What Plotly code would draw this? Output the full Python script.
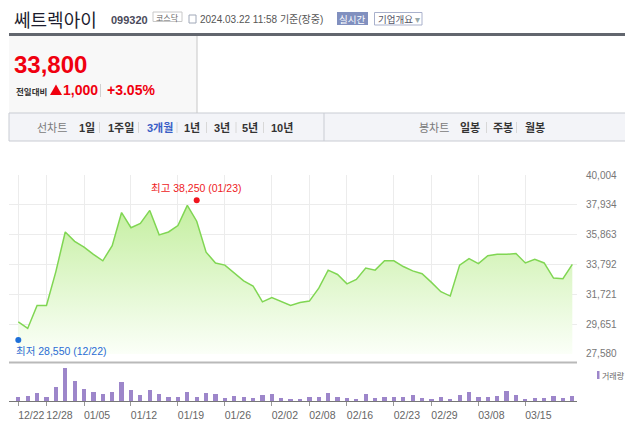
import plotly.graph_objects as go

W, H = 625, 421

# ---------------- data ----------------
dates = [
    "2023-12-22", "2023-12-26", "2023-12-27", "2023-12-28",
    "2024-01-02", "2024-01-03", "2024-01-04", "2024-01-05",
    "2024-01-08", "2024-01-09", "2024-01-10", "2024-01-11", "2024-01-12",
    "2024-01-15", "2024-01-16", "2024-01-17", "2024-01-18", "2024-01-19",
    "2024-01-22", "2024-01-23", "2024-01-24", "2024-01-25", "2024-01-26",
    "2024-01-29", "2024-01-30", "2024-01-31", "2024-02-01", "2024-02-02",
    "2024-02-05", "2024-02-06", "2024-02-07", "2024-02-08",
    "2024-02-13", "2024-02-14", "2024-02-15", "2024-02-16",
    "2024-02-19", "2024-02-20", "2024-02-21", "2024-02-22", "2024-02-23",
    "2024-02-26", "2024-02-27", "2024-02-28", "2024-02-29",
    "2024-03-04", "2024-03-05", "2024-03-06", "2024-03-07", "2024-03-08",
    "2024-03-11", "2024-03-12", "2024-03-13", "2024-03-14", "2024-03-15",
    "2024-03-18", "2024-03-19", "2024-03-20", "2024-03-21", "2024-03-22",
]

closes = [
    29800, 29350, 30950, 30950, 33300, 36050, 35400, 35000, 34500, 34050,
    35100, 37400, 36350, 36650, 37550, 35850, 36050, 36500, 37900, 36800,
    34650, 33900, 33750, 33200, 32650, 32300, 31200, 31500, 31250, 30950,
    31150, 31250, 32150, 33400, 33100, 32450, 32750, 33550, 33400, 34050,
    34050, 33650, 33350, 33150, 32550, 31900, 31600, 33750, 34200, 33850,
    34400, 34500, 34500, 34550, 33900, 34150, 33900, 32850, 32800, 33800,
]

volumes = [
    86000, 106000, 160000, 74000, 286000, 654000, 400000, 240000, 180000, 140000,
    180000, 380000, 220000, 120000, 220000, 140000, 86000, 74000, 180000, 86000,
    160000, 140000, 54000, 106000, 74000, 54000, 120000, 140000, 54000, 34000,
    34000, 74000, 86000, 160000, 74000, 54000, 40000, 140000, 54000, 86000,
    86000, 74000, 120000, 54000, 40000, 86000, 40000, 120000, 180000, 86000,
    86000, 106000, 200000, 120000, 40000, 54000, 54000, 106000, 54000, 106000,
]

tick_dates = ["2023-12-22", "2023-12-28", "2024-01-05", "2024-01-12", "2024-01-19",
              "2024-01-26", "2024-02-02", "2024-02-08", "2024-02-16", "2024-02-23",
              "2024-02-29", "2024-03-08", "2024-03-15"]
tick_labels = ["12/22", "12/28", "01/05", "01/12", "01/19", "01/26", "02/02",
               "02/08", "02/16", "02/23", "02/29", "03/08", "03/15"]

price_ticks = [27580, 29651, 31721, 33792, 35863, 37934, 40004]
price_tick_labels = [f"{v:,}" for v in price_ticks]

high_date, high_value, high_label = "2024-01-23", 38250, "01/23"
low_date, low_value, low_label = "2023-12-22", 28550, "12/22"

stock_name = "쎄트렉아이"
stock_code = "099320"
market = "코스닥"
timestamp = "2024.03.22 11:58 기준(장중)"
period_items = ["1일", "1주일", "3개월", "1년", "3년", "5년", "10년"]
candle_items = ["일봉", "주봉", "월봉"]

# ---------------- helpers ----------------
KF = "Noto Sans CJK KR"
LF = "Liberation Sans, Arial, Noto Sans CJK KR"
annotations = []
shapes = []


def px(x):
    return x / W


def py(y):
    return 1 - y / H


def txt(x, y, s, size, color, anchor="left", family=LF):
    annotations.append(dict(x=px(x), y=py(y), xref="paper", yref="paper", text=s,
                            showarrow=False, xanchor=anchor, yanchor="middle",
                            borderpad=0,
                            font=dict(size=size, color=color, family=family)))


def rect(x0, y0, x1, y1, fill=None, line=None, lw=1):
    shapes.append(dict(type="rect", xref="paper", yref="paper",
                       x0=px(x0), x1=px(x1), y0=py(y1), y1=py(y0),
                       fillcolor=fill if fill else "rgba(0,0,0,0)",
                       line=dict(color=line if line else "rgba(0,0,0,0)", width=lw if line else 0),
                       layer="below"))


def vline(x, y0, y1, color, lw=1):
    shapes.append(dict(type="line", xref="paper", yref="paper",
                       x0=px(x), x1=px(x), y0=py(y0), y1=py(y1),
                       line=dict(color=color, width=lw)))


def hline(x0, x1, y, color, lw=1):
    shapes.append(dict(type="line", xref="paper", yref="paper",
                       x0=px(x0), x1=px(x1), y0=py(y), y1=py(y),
                       line=dict(color=color, width=lw)))


def tri(x0, y0, x1, y1, color):
    path = (f"M {px(x0)},{py(y1)} L {px((x0 + x1) / 2)},{py(y0)} "
            f"L {px(x1)},{py(y1)} Z")
    shapes.append(dict(type="path", xref="paper", yref="paper", path=path,
                       fillcolor=color, line=dict(width=0)))


# ---------------- header ----------------
txt(13, 19, stock_name, 18, "#1c1c2e", family=KF)
txt(110, 20, f"<b>{stock_code}</b>", 11, "#4a4a5a")
rect(153, 12, 182, 21.5, fill="#ffffff", line="#c8c8c8")
txt(167.5, 17, market, 8, "#666666", anchor="center", family=KF)
rect(189, 15, 196, 23, fill="#ffffff", line="#a0a8b8")
txt(199, 19, timestamp, 10, "#555555")
rect(337, 12, 368, 25, fill="#8190bf")
txt(352.5, 18.5, "실시간", 9.5, "#ffffff", anchor="center", family=KF)
rect(374.5, 12.5, 422, 25, fill="#ffffff", line="#a9b1cc")
txt(377, 18.5, "기업개요 <span style='color:#9aa'>▾</span>", 9.5, "#555566", family=KF)
rect(9, 33, 625, 36, fill="#62666e")

# price panel
rect(9, 36, 197, 113, fill="#f8f8f8")
vline(197, 36, 113, "#c8c8c8")
cur = closes[-1]
chg = closes[-1] - closes[-2]
pct = chg / closes[-2] * 100
txt(12.5, 65, f"<b>{cur:,}</b>", 24, "#f0000f")
txt(14.5, 91, "<b>전일대비</b>", 8.5, "#333333", family=KF)
tri(50, 84.5, 62, 95, "#f0000f")
txt(62, 90, f"<b>{chg:,}</b>", 14, "#f0000f")
vline(100.5, 84, 97, "#d0d0d0")
txt(105.5, 90, f"<b>+{pct:.2f}%</b>", 14, "#f0000f")

# toolbar
rect(9, 113, 626, 141, fill="#f3f4f8", line="#c9ccd3")
vline(324, 113, 141, "#c9ccd3")
txt(36, 127, "선차트", 11, "#7a7a7a", family=KF)
item_x = [77.5, 107, 145.5, 183, 212.5, 241, 269.5]
sep_x = [99.5, 138.5, 177, 206.5, 236, 263.5]
for s, xx in zip(period_items, item_x):
    col = "#3a5ec6" if s == "3개월" else "#333333"
    txt(xx, 127, f"<b>{s}</b>", 11, col)
for xx in sep_x:
    vline(xx, 122, 133, "#d8d8d8")
txt(418, 127, "봉차트", 11, "#7a7a7a", family=KF)
for s, xx in zip(candle_items, [459, 491.5, 524]):
    txt(xx, 127, f"<b>{s}</b>", 11, "#333333", family=KF)
for xx in [486.5, 516.5]:
    vline(xx, 122, 133, "#d8d8d8")

# volume pane border + legend
hline(9, 577, 362.5, "#b9b9b9", 2)
rect(597, 371, 599.5, 379, fill="#9d86ca")
txt(601, 375, "거래량", 8, "#666666", family=KF)

# ---------------- traces ----------------
fig = go.Figure()
fig.add_trace(go.Scatter(
    x=dates, y=closes, mode="lines", xaxis="x", yaxis="y",
    line=dict(color="#80d653", width=1.5),
    fill="tozeroy",
    fillgradient=dict(type="vertical", start=27580, stop=38500,
                      colorscale=[[0, "#fbfff8"], [1, "#c1ee9b"]]),
    hoverinfo="skip", showlegend=False))
fig.add_trace(go.Scatter(
    x=[high_date], y=[high_value], mode="markers", xaxis="x", yaxis="y",
    marker=dict(color="#f0141e", size=6), showlegend=False, cliponaxis=False))
fig.add_trace(go.Scatter(
    x=[low_date], y=[low_value], mode="markers", xaxis="x", yaxis="y",
    marker=dict(color="#1f6fd8", size=6), showlegend=False, cliponaxis=False))
fig.add_trace(go.Bar(
    x=dates, y=volumes, xaxis="x2", yaxis="y2", width=0.45,
    marker=dict(color="#9d86ca", line=dict(width=0)), showlegend=False))

annotations.append(dict(x=high_date, y=high_value, xref="x", yref="y",
                        text=f"최고 {high_value:,} ({high_label})", showarrow=False,
                        xanchor="center", yanchor="middle", yshift=12.5,
                        font=dict(size=10.5, color="#ee1c25", family=LF)))
annotations.append(dict(x=low_date, y=low_value, xref="x", yref="y",
                        text=f"최저 {low_value:,} ({low_label})", showarrow=False,
                        xanchor="left", yanchor="middle", yshift=-11.5, xshift=-4,
                        font=dict(size=10.5, color="#2b6cd4", family=LF)))

xr = [-0.99, 59.5]
dom = [px(9), px(577)]
fig.update_layout(
    width=W, height=H, margin=dict(l=0, r=0, t=0, b=0, autoexpand=False),
    paper_bgcolor="#ffffff", plot_bgcolor="rgba(0,0,0,0)",
    showlegend=False, bargap=0,
    annotations=annotations, shapes=shapes,
    xaxis=dict(domain=dom, type="category", range=xr, anchor="y",
               tickvals=tick_dates, showticklabels=False, ticks="",
               showgrid=True, gridcolor="#ececec", gridwidth=1,
               zeroline=False, showline=False, fixedrange=True, automargin=False),
    yaxis=dict(domain=[py(354), py(175)], range=[27575, 40009], anchor="x",
               side="right", tickvals=price_ticks, ticktext=price_tick_labels,
               tickfont=dict(size=10, color="#777777", family=LF),
               ticks="outside", ticklen=6, tickcolor="rgba(0,0,0,0)",
               showgrid=True, gridcolor="#ececec", gridwidth=1,
               zeroline=False, showline=False, automargin=False),
    xaxis2=dict(domain=dom, type="category", range=xr, anchor="y2",
                tickvals=tick_dates, ticktext=tick_labels, tickangle=0,
                tickfont=dict(size=10.5, color="#666666", family=LF),
                ticks="outside", ticklen=4, tickcolor="#999999",
                ticklabelshift=13, automargin=False,
                showline=True, linecolor="#777777", linewidth=1,
                showgrid=False, zeroline=False),
    yaxis2=dict(domain=[py(401), py(362)], range=[0, 780000], anchor="x2",
                visible=False, showgrid=False, zeroline=False),
)

fig.write_html("out.html")
